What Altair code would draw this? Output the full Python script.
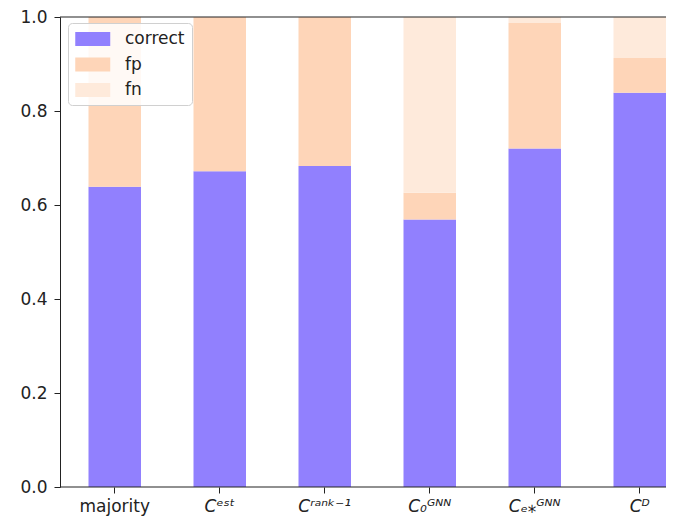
import altair as alt
import pandas as pd

categories = ["majority", "Cᵉˢᵗ", "Cʳᵃⁿᵏ⁻¹", "C₀ᴳᴺᴺ", "Cₑ⁎ᴳᴺᴺ", "Cᴰ"]
correct = [0.639, 0.672, 0.683, 0.569, 0.720, 0.839]
fp = [0.361, 0.328, 0.317, 0.057, 0.267, 0.074]
fn = [0.000, 0.000, 0.000, 0.374, 0.013, 0.087]
series = ["correct", "fp", "fn"]
colors = ["#9180fe", "#fed5b8", "#feeadb"]

rows = []
for i, c in enumerate(categories):
    for k, (name, vals) in enumerate(zip(series, [correct, fp, fn])):
        rows.append({"category": c, "type": name, "value": vals[i], "order": k})
df = pd.DataFrame(rows)

FONT = "DejaVu Sans"
W, H = 606, 470

legend_symbol = "M-1,-0.8L3,-0.8L3,0.8L-1,0.8Z"

bars = alt.Chart(df).mark_bar().encode(
    x=alt.X("category:N", sort=categories,
            scale=alt.Scale(paddingInner=0.5, paddingOuter=0.1357, align=1),
            axis=alt.Axis(title=None, labelAngle=0, domain=False, tickSize=6,
                          labelPadding=5, labelFontSize=17, labelFont=FONT,
                          labelColor="#222", tickColor="#222",
                          labelFontStyle={"condition": {"test": "datum.value == 'majority'", "value": "normal"}, "value": "italic"})),
    y=alt.Y("sum(value):Q", stack="zero",
            scale=alt.Scale(domain=[0, 1], nice=False),
            axis=alt.Axis(title=None, values=[0, 0.2, 0.4, 0.6, 0.8, 1.0], format=".1f",
                          grid=False, tickSize=6, labelPadding=7, labelFontSize=17,
                          labelFont=FONT, labelColor="#222", tickColor="#222",
                          domainColor="#222")),
    color=alt.Color("type:N", sort=series,
                    scale=alt.Scale(domain=series, range=colors),
                    legend=alt.Legend(title=None, orient="none", legendX=8, legendY=6,
                                      symbolType=legend_symbol, symbolSize=306,
                                      symbolStrokeWidth=0, symbolOpacity=1,
                                      labelFontSize=17, labelFont=FONT, labelColor="#222",
                                      labelOffset=32, rowPadding=8.5, padding=7,
                                      fillColor="rgba(255,255,255,0.85)",
                                      strokeColor="#d0d0d0", cornerRadius=4)),
    order=alt.Order("order:Q"),
)

frame_df = pd.DataFrame({"v": [0.0, 1.0]})
frame = alt.Chart(frame_df).mark_rule(color="#222", strokeWidth=1.2).encode(y="v:Q")

chart = alt.layer(bars, frame).properties(
    width=W, height=H,
    autosize=alt.AutoSizeParams(type="none"),
    padding={"left": 52, "top": 9, "right": 0, "bottom": 30}
).configure_view(stroke=None)

chart.save("out.html", embed_options={"renderer": "svg", "actions": False})
